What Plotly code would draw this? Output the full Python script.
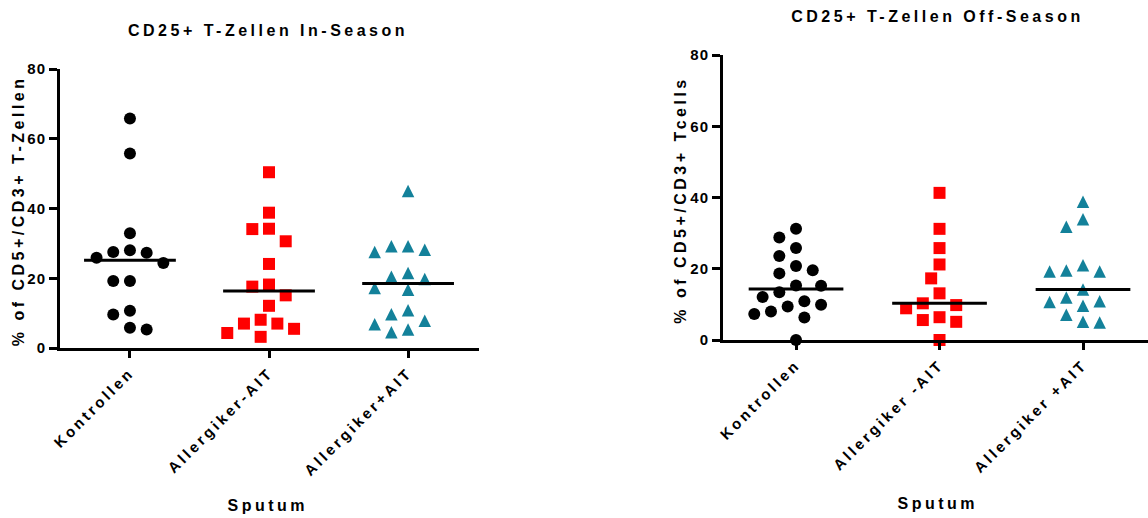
import numpy as np
import plotly.graph_objects as go

# ---- data -------------------------------------------------------------
groups_in = ["Kontrollen", "Allergiker-AIT", "Allergiker+AIT"]
groups_off = ["Kontrollen", "Allergiker -AIT", "Allergiker +AIT"]

in_kontrollen = [65.8, 55.8, 32.9, 27.5, 25.9, 27.3, 28.0, 24.4, 19.2, 19.2, 9.6, 10.7, 5.3, 5.8]
in_allergiker_minus = [50.4, 38.8, 34.2, 34.1, 30.6, 24.1, 18.2, 17.6, 15.1, 12.1, 8.1, 7.0, 7.0, 5.5, 4.3, 3.2]
in_allergiker_plus = [45.0, 29.2, 28.2, 27.5, 29.2, 21.5, 19.8, 20.4, 16.7, 17.2, 10.8, 9.7, 7.8, 6.8, 4.5, 5.3]

off_kontrollen = [31.2, 28.8, 25.8, 23.6, 19.6, 20.8, 18.7, 15.2, 15.3, 13.4, 12.1, 10.9, 9.9, 9.4, 8.0, 7.3, 6.3, 0.0]
off_allergiker_minus = [41.3, 31.2, 25.8, 21.2, 17.3, 13.1, 9.8, 10.3, 8.9, 5.6, 5.1, 6.4, 0.0]
off_allergiker_plus = [38.8, 33.9, 31.8, 21.0, 19.5, 19.2, 19.2, 14.2, 11.9, 10.7, 10.9, 9.6, 7.1, 4.9, 5.1]

y_ticks = [0, 20, 40, 60, 80]

title_in = "CD25+ T-Zellen In-Season"
title_off = "CD25+ T-Zellen Off-Season"
ytitle_in = "% of CD5+/CD3+ T-Zellen"
ytitle_off = "% of CD5+/CD3+ Tcells"
xtitle = "Sputum"

# ---- figure geometry (pixels) ----------------------------------------
W, H = 1148, 518
LEFT_X = (60, 479)       # plot area horizontal extent, left panel
LEFT_Y = (69, 348)       # top (80) / bottom (0), left panel
RIGHT_X = (723, 1148)
RIGHT_Y = (55, 340)
LEFT_XRANGE = [-0.503, 2.51]
RIGHT_XRANGE = [-0.509, 2.453]
Y_RANGE = [0, 80]

FONT = "Liberation Sans, Arial, Helvetica, sans-serif"
BLACK = "#000000"
RED = "#FF0000"
TEAL = "#13819A"

MARKERS = [
    dict(symbol="circle", color=BLACK, size=12),
    dict(symbol="square", color=RED, size=12),
    # arrow-down rotated 180 deg with a standoff of half its size: an
    # upward triangle centred on the data point
    dict(symbol="arrow-down", color=TEAL, size=12.5, angle=180, standoff=6.25),
]


def swarm_offsets(values, px_per_unit, step_px, min_dist_px):
    """Greedy beeswarm: horizontal pixel offsets so that symbols don't overlap."""
    vals = np.asarray(values, dtype=float)
    order = np.argsort(-vals, kind="stable")
    half = step_px / 2.0
    candidates = [0.0]
    for k in range(1, 30):
        candidates += [-k * half, k * half]
    placed = []
    offsets = np.zeros(len(vals))
    for idx in order:
        y = vals[idx] * px_per_unit
        for c in candidates:
            if all((c - px) ** 2 + (y - py) ** 2 >= min_dist_px ** 2 for px, py in placed):
                offsets[idx] = c
                placed.append((c, y))
                break
    return offsets


def panel(fig, series, xname, yname, xpix, ypix, xrange):
    px_per_unit = (ypix[1] - ypix[0]) / (Y_RANGE[1] - Y_RANGE[0])
    px_per_cat = (xpix[1] - xpix[0]) / (xrange[1] - xrange[0])
    for i, (vals, mk) in enumerate(zip(series, MARKERS)):
        off = swarm_offsets(vals, px_per_unit, 16.7, 16.0)
        fig.add_trace(go.Scatter(
            x=i + off / px_per_cat, y=vals, mode="markers",
            marker=dict(line=dict(width=0), **mk),
            xaxis=xname, yaxis=yname, cliponaxis=False,
            showlegend=False, hoverinfo="y",
        ))
    for i, vals in enumerate(series):
        med = float(np.median(vals))
        fig.add_trace(go.Scatter(
            x=[i - 0.33, i + 0.33], y=[med, med], mode="lines",
            line=dict(color=BLACK, width=3),
            xaxis=xname, yaxis=yname, cliponaxis=False,
            showlegend=False, hoverinfo="skip",
        ))


fig = go.Figure()
panel(fig, [in_kontrollen, in_allergiker_minus, in_allergiker_plus],
      "x", "y", LEFT_X, LEFT_Y, LEFT_XRANGE)
panel(fig, [off_kontrollen, off_allergiker_minus, off_allergiker_plus],
      "x2", "y2", RIGHT_X, RIGHT_Y, RIGHT_XRANGE)

tick_font = dict(family=FONT, size=15, color=BLACK, weight="bold")
label_font = dict(family=FONT, size=15, color=BLACK, weight="bold")
title_font = dict(family=FONT, size=16, color=BLACK, weight="bold")


def xaxis(domain_px, xrange, labels, anchor):
    return dict(
        domain=[domain_px[0] / W, domain_px[1] / W], range=xrange, anchor=anchor,
        tickmode="array", tickvals=[0, 1, 2], ticktext=labels, tickangle=-45,
        ticks="outside", ticklen=7, tickwidth=3, tickcolor=BLACK,
        showline=True, linewidth=3, linecolor=BLACK, automargin=False,
        showgrid=False, zeroline=False, tickfont=label_font, fixedrange=True,
    )


def yaxis(domain_px, anchor):
    return dict(
        domain=[(H - domain_px[1]) / H, (H - domain_px[0]) / H], range=Y_RANGE,
        anchor=anchor, tickmode="array", tickvals=y_ticks,
        ticks="outside", ticklen=8, tickwidth=3, tickcolor=BLACK,
        showline=True, linewidth=3, linecolor=BLACK, automargin=False,
        showgrid=False, zeroline=False, tickfont=tick_font, fixedrange=True,
    )


annotations = [
    dict(text=title_in, x=267.5 / W, y=(H - 31) / H),
    dict(text=title_off, x=938 / W, y=(H - 16) / H),
    dict(text=ytitle_in, x=19 / W, y=(H - 211) / H, textangle=-90),
    dict(text=ytitle_off, x=680 / W, y=(H - 200) / H, textangle=-90),
    dict(text=xtitle, x=267.5 / W, y=(H - 505) / H),
    dict(text=xtitle, x=937.5 / W, y=(H - 503) / H),
]
for a in annotations:
    a.update(xref="paper", yref="paper", xanchor="center", yanchor="middle",
             showarrow=False, font=title_font)

fig.update_layout(
    width=W, height=H, margin=dict(l=0, r=0, t=0, b=0, autoexpand=False),
    paper_bgcolor="white", plot_bgcolor="white",
    xaxis=xaxis(LEFT_X, LEFT_XRANGE, groups_in, "y"),
    yaxis=yaxis(LEFT_Y, "x"),
    xaxis2=xaxis(RIGHT_X, RIGHT_XRANGE, groups_off, "y2"),
    yaxis2=yaxis(RIGHT_Y, "x2"),
    annotations=annotations,
    showlegend=False,
)

# Page without body margin, and wide character spacing for the texts
spacing_js = """
document.body.style.margin = '0';
document.body.style.overflow = 'hidden';
var gd = document.getElementById('{plot_id}');
function applySpacing() {
  gd.querySelectorAll('.annotation-text').forEach(function (t) { t.style.letterSpacing = '3.5px'; });
  gd.querySelectorAll('.xtick text, .x2tick text').forEach(function (t) { t.style.letterSpacing = '3.1px'; });
  gd.querySelectorAll('.ytick text, .y2tick text').forEach(function (t) { t.style.letterSpacing = '1px'; });
}
applySpacing();
gd.on('plotly_afterplot', applySpacing);
"""

fig.write_html("out.html", post_script=spacing_js, config={"displayModeBar": False})
